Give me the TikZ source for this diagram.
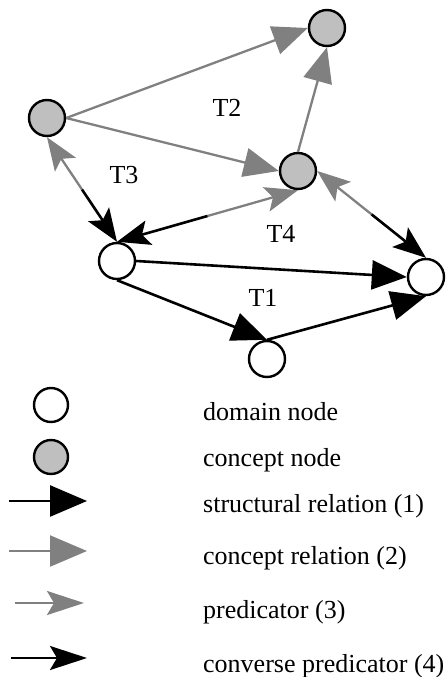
\documentclass[tikz,border=0pt]{standalone}
\usepackage{fontspec}
\setmainfont{Liberation Serif}
\usetikzlibrary{arrows.meta}
\definecolor{relgray}{gray}{0.5}
\definecolor{nodegray}{gray}{0.75}
\tikzset{
  domnode/.style={circle,draw=black,fill=white,line width=2.4pt,minimum size=36pt,inner sep=0pt},
  concnode/.style={circle,draw=black,fill=nodegray,line width=2.4pt,minimum size=36pt,inner sep=0pt},
  structural/.style={draw=black,line width=2.6pt,-{Triangle[length=35pt,width=29pt]}},
  conceptrel/.style={draw=relgray,line width=2.3pt,-{Triangle[length=35pt,width=29pt]}},
  predicator/.style={draw=relgray,line width=2.3pt,-{Stealth[length=33pt,width=25pt,inset=7pt]}},
  converse/.style={draw=black,line width=2.6pt,-{Stealth[length=33pt,width=25pt,inset=7pt]}},
  lbl/.style={inner sep=0pt,font=\fontsize{26}{30}\selectfont},
  legtext/.style={inner sep=0pt,anchor=base west,font=\fontsize{26}{30}\selectfont}
}
\begin{document}
\begin{tikzpicture}[x=1pt,y=-1pt]
\useasboundingbox (0,0) rectangle (445,677);

% graph nodes
\node[concnode] (ct) at (327,28) {};
\node[concnode] (cl) at (47,118) {};
\node[concnode] (cm) at (298,171) {};
\node[domnode]  (dl) at (117,261) {};
\node[domnode]  (dr) at (426,277) {};
\node[domnode]  (db) at (267,359) {};

% concept relations
\draw[conceptrel] (cl.east) -- (ct.west);
\draw[conceptrel] (cl.east) -- (cm.west);
\draw[conceptrel] (cm.north) -- (ct.south);

% structural relations
\draw[structural] (dl.east) -- (dr.west);
\draw[structural] (dl.south) -- (db.north);
\draw[structural] (db.north) -- (dr.south);

% predicator / converse predicator pairs, split at the middle
\path (cl.south) -- (dl.north) coordinate[pos=0.5] (m1);
\draw[predicator] (m1) -- (cl.south);
\draw[converse] (m1) -- (dl.north);

\path (cm.south) -- (dl.north) coordinate[pos=0.5] (m2);
\draw[predicator] (m2) -- (cm.south);
\draw[converse] (m2) -- (dl.north);

\path (cm.east) -- (dr.north) coordinate[pos=0.5] (m3);
\draw[predicator] (m3) -- (cm.east);
\draw[converse] (m3) -- (dr.north);

% subgraph labels
\node[lbl] (t2) at (227,108) {T2};
\node[lbl] (t3) at (124,175) {T3};
\node[lbl] (t4) at (281,234) {T4};
\node[lbl] (t1) at (263,298) {T1};

% legend
\node[domnode,minimum size=34pt] (ldom) at (51,405) {};
\node[concnode,minimum size=34pt] (lcon) at (51,457) {};
\coordinate (a1s) at (9,501);   \coordinate (a1e) at (87,501);
\coordinate (a2s) at (9,551);   \coordinate (a2e) at (87,551);
\coordinate (a3s) at (15,603);  \coordinate (a3e) at (84,603);
\coordinate (a4s) at (11,658);  \coordinate (a4e) at (87,658);
\draw[structural,-{Triangle[length=37pt,width=31pt]}] (a1s) -- (a1e);
\draw[conceptrel,-{Triangle[length=37pt,width=31pt]}] (a2s) -- (a2e);
\draw[predicator,-{Stealth[length=37pt,width=24pt,inset=7pt]}] (a3s) -- (a3e);
\draw[converse,-{Stealth[length=37pt,width=24pt,inset=7pt]}] (a4s) -- (a4e);

\node[legtext] (l1) at (203,420) {domain node};
\node[legtext] (l2) at (203,466) {concept node};
\node[legtext] (l3) at (203,512) {structural relation (1)};
\node[legtext] (l4) at (203,564) {concept relation (2)};
\node[legtext] (l5) at (203,618) {predicator (3)};
\node[legtext] (l6) at (203,672) {converse predicator (4)};
\end{tikzpicture}
\end{document}
